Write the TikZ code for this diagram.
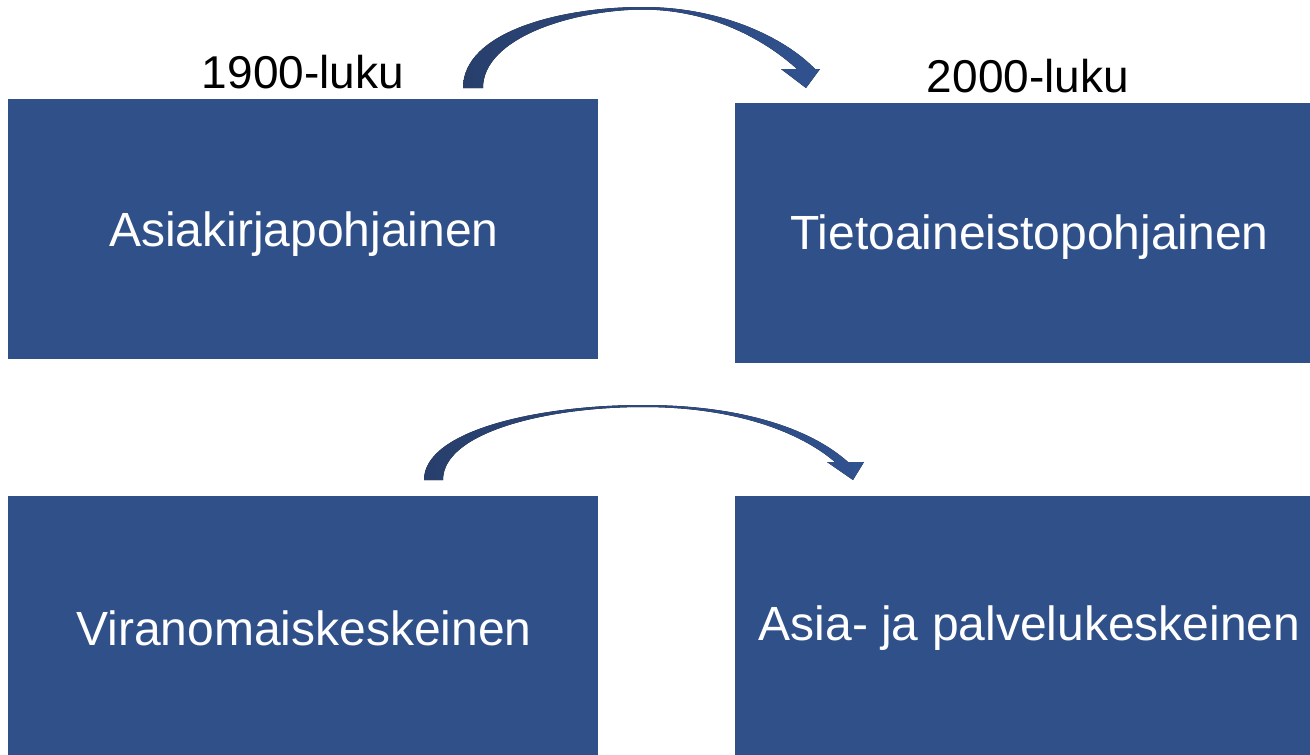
\documentclass[tikz,border=0pt]{standalone}
\usepackage{fontspec}
\setmainfont{Liberation Sans}
\begin{document}
\begin{tikzpicture}[x=1pt,y=-1pt,
  box/.style={fill=boxblue,draw=none,inner sep=0pt},
  boxtxt/.style={inner sep=0pt,text=white,font=\fontsize{48}{52}\selectfont},
  lbl/.style={inner sep=0pt,text=black,font=\fontsize{46}{52}\selectfont},
  arr/.style={left color=arrdark,right color=arrlight,draw=none}]
\definecolor{boxblue}{HTML}{30508A}
\definecolor{arrdark}{HTML}{283F6C}
\definecolor{arrlight}{HTML}{30528F}
\useasboundingbox (0,0) rectangle (1310,755);
\fill[white] (0,0) rectangle (1310,755);
% boxes
\node[box,minimum width=590pt,minimum height=260pt] (a) at (303,229) {};
\node[box,minimum width=575pt,minimum height=260pt] (b) at (1022.5,233) {};
\node[box,minimum width=590pt,minimum height=259pt] (c) at (303,625.5) {};
\node[box,minimum width=575pt,minimum height=259pt] (d) at (1022.5,625.5) {};
\node[boxtxt] (ta) at ([xshift=1pt,yshift=-5pt]a.center) {Asiakirjapohjainen};
\node[boxtxt] (tb) at ([xshift=7pt,yshift=-4pt]b.center) {Tietoaineistopohjainen};
\node[boxtxt] (tc) at ([xshift=1pt,yshift=-3pt]c.center) {Viranomaiskeskeinen};
\node[boxtxt] (td) at ([xshift=7pt,yshift=-3pt]d.center) {Asia- ja palvelukeskeinen};
% labels
\node[lbl] (l1) at (303,72) {1900-luku};
\node[lbl] (l2) at (1028,76) {2000-luku};
% top curved arrow
\fill[arr] (463,88) .. controls (463,32) and (560,7) .. (643,7)
  .. controls (722,7) and (785,38) .. (815,69)
  -- (820,69) -- (806,88) -- (781,69) -- (797,69)
  .. controls (765,40) and (712,10) .. (643,9.5)
  .. controls (572,10) and (483,38) .. (483,88) -- cycle;
% bottom curved arrow
\fill[arr] (424,480) .. controls (424,430) and (540,405) .. (643,405)
  .. controls (740,405) and (810,428) .. (848,462)
  -- (864,462) -- (853,480) -- (827,462) -- (835,462)
  .. controls (800,432) and (735,407) .. (643,407)
  .. controls (548,407) and (443,432) .. (443,480) -- cycle;
\end{tikzpicture}
\end{document}
